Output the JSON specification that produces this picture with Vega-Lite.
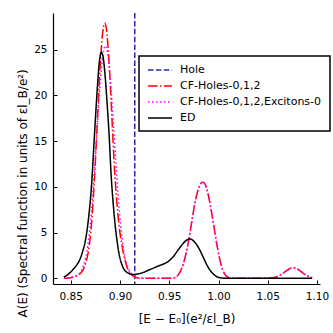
{
  "$schema": "https://vega.github.io/schema/vega-lite/v6.json",
  "width": 267,
  "height": 271,
  "autosize": {"type": "none"},
  "padding": {"left": 53, "top": 13, "right": 13, "bottom": 49},
  "background": "white",
  "datasets": {
    "curves": [
      {"s": "CF-Holes-0,1,2", "x": 0.843, "y": 0},
      {"s": "CF-Holes-0,1,2", "x": 0.847, "y": 0.03},
      {"s": "CF-Holes-0,1,2", "x": 0.851, "y": 0.08},
      {"s": "CF-Holes-0,1,2", "x": 0.855, "y": 0.2},
      {"s": "CF-Holes-0,1,2", "x": 0.859, "y": 0.45},
      {"s": "CF-Holes-0,1,2", "x": 0.862, "y": 0.85},
      {"s": "CF-Holes-0,1,2", "x": 0.865, "y": 1.6},
      {"s": "CF-Holes-0,1,2", "x": 0.868, "y": 3.0},
      {"s": "CF-Holes-0,1,2", "x": 0.871, "y": 5.8},
      {"s": "CF-Holes-0,1,2", "x": 0.874, "y": 10.7},
      {"s": "CF-Holes-0,1,2", "x": 0.877, "y": 17.1},
      {"s": "CF-Holes-0,1,2", "x": 0.88, "y": 23.4},
      {"s": "CF-Holes-0,1,2", "x": 0.882, "y": 26.4},
      {"s": "CF-Holes-0,1,2", "x": 0.8845, "y": 27.9},
      {"s": "CF-Holes-0,1,2", "x": 0.886, "y": 27.4},
      {"s": "CF-Holes-0,1,2", "x": 0.888, "y": 25.1},
      {"s": "CF-Holes-0,1,2", "x": 0.89, "y": 21.5},
      {"s": "CF-Holes-0,1,2", "x": 0.892, "y": 17.1},
      {"s": "CF-Holes-0,1,2", "x": 0.894, "y": 12.8},
      {"s": "CF-Holes-0,1,2", "x": 0.896, "y": 9.4},
      {"s": "CF-Holes-0,1,2", "x": 0.899, "y": 5.8},
      {"s": "CF-Holes-0,1,2", "x": 0.902, "y": 3.6},
      {"s": "CF-Holes-0,1,2", "x": 0.905, "y": 2.0},
      {"s": "CF-Holes-0,1,2", "x": 0.908, "y": 1.0},
      {"s": "CF-Holes-0,1,2", "x": 0.911, "y": 0.45},
      {"s": "CF-Holes-0,1,2", "x": 0.914, "y": 0.18},
      {"s": "CF-Holes-0,1,2", "x": 0.918, "y": 0.05},
      {"s": "CF-Holes-0,1,2", "x": 0.922, "y": 0},
      {"s": "CF-Holes-0,1,2", "x": 0.935, "y": 0},
      {"s": "CF-Holes-0,1,2", "x": 0.95, "y": 0},
      {"s": "CF-Holes-0,1,2", "x": 0.955, "y": 0.05},
      {"s": "CF-Holes-0,1,2", "x": 0.958, "y": 0.25},
      {"s": "CF-Holes-0,1,2", "x": 0.961, "y": 0.7},
      {"s": "CF-Holes-0,1,2", "x": 0.964, "y": 1.5},
      {"s": "CF-Holes-0,1,2", "x": 0.967, "y": 2.7},
      {"s": "CF-Holes-0,1,2", "x": 0.97, "y": 4.3},
      {"s": "CF-Holes-0,1,2", "x": 0.973, "y": 6.3},
      {"s": "CF-Holes-0,1,2", "x": 0.976, "y": 8.2},
      {"s": "CF-Holes-0,1,2", "x": 0.979, "y": 9.6},
      {"s": "CF-Holes-0,1,2", "x": 0.982, "y": 10.35},
      {"s": "CF-Holes-0,1,2", "x": 0.984, "y": 10.5},
      {"s": "CF-Holes-0,1,2", "x": 0.986, "y": 10.35},
      {"s": "CF-Holes-0,1,2", "x": 0.989, "y": 9.4},
      {"s": "CF-Holes-0,1,2", "x": 0.992, "y": 7.8},
      {"s": "CF-Holes-0,1,2", "x": 0.995, "y": 5.9},
      {"s": "CF-Holes-0,1,2", "x": 0.998, "y": 3.9},
      {"s": "CF-Holes-0,1,2", "x": 1.001, "y": 2.2},
      {"s": "CF-Holes-0,1,2", "x": 1.004, "y": 1.0},
      {"s": "CF-Holes-0,1,2", "x": 1.007, "y": 0.35},
      {"s": "CF-Holes-0,1,2", "x": 1.01, "y": 0.1},
      {"s": "CF-Holes-0,1,2", "x": 1.014, "y": 0},
      {"s": "CF-Holes-0,1,2", "x": 1.03, "y": 0},
      {"s": "CF-Holes-0,1,2", "x": 1.045, "y": 0},
      {"s": "CF-Holes-0,1,2", "x": 1.05, "y": 0.01},
      {"s": "CF-Holes-0,1,2", "x": 1.055, "y": 0.06},
      {"s": "CF-Holes-0,1,2", "x": 1.06, "y": 0.21},
      {"s": "CF-Holes-0,1,2", "x": 1.064, "y": 0.45},
      {"s": "CF-Holes-0,1,2", "x": 1.068, "y": 0.76},
      {"s": "CF-Holes-0,1,2", "x": 1.072, "y": 1.05},
      {"s": "CF-Holes-0,1,2", "x": 1.0757, "y": 1.15},
      {"s": "CF-Holes-0,1,2", "x": 1.079, "y": 1.07},
      {"s": "CF-Holes-0,1,2", "x": 1.083, "y": 0.8},
      {"s": "CF-Holes-0,1,2", "x": 1.087, "y": 0.48},
      {"s": "CF-Holes-0,1,2", "x": 1.091, "y": 0.23},
      {"s": "CF-Holes-0,1,2", "x": 1.095, "y": 0.09},

      {"s": "CF-Holes-0,1,2,Excitons-0", "x": 0.843, "y": 0},
      {"s": "CF-Holes-0,1,2,Excitons-0", "x": 0.847, "y": 0.04},
      {"s": "CF-Holes-0,1,2,Excitons-0", "x": 0.851, "y": 0.1},
      {"s": "CF-Holes-0,1,2,Excitons-0", "x": 0.855, "y": 0.25},
      {"s": "CF-Holes-0,1,2,Excitons-0", "x": 0.859, "y": 0.55},
      {"s": "CF-Holes-0,1,2,Excitons-0", "x": 0.862, "y": 1.1},
      {"s": "CF-Holes-0,1,2,Excitons-0", "x": 0.865, "y": 2.2},
      {"s": "CF-Holes-0,1,2,Excitons-0", "x": 0.868, "y": 4.1},
      {"s": "CF-Holes-0,1,2,Excitons-0", "x": 0.871, "y": 7.3},
      {"s": "CF-Holes-0,1,2,Excitons-0", "x": 0.874, "y": 11.7},
      {"s": "CF-Holes-0,1,2,Excitons-0", "x": 0.877, "y": 16.8},
      {"s": "CF-Holes-0,1,2,Excitons-0", "x": 0.88, "y": 21.5},
      {"s": "CF-Holes-0,1,2,Excitons-0", "x": 0.882, "y": 23.8},
      {"s": "CF-Holes-0,1,2,Excitons-0", "x": 0.8852, "y": 25.4},
      {"s": "CF-Holes-0,1,2,Excitons-0", "x": 0.888, "y": 24.2},
      {"s": "CF-Holes-0,1,2,Excitons-0", "x": 0.89, "y": 22.0},
      {"s": "CF-Holes-0,1,2,Excitons-0", "x": 0.892, "y": 19.1},
      {"s": "CF-Holes-0,1,2,Excitons-0", "x": 0.894, "y": 15.7},
      {"s": "CF-Holes-0,1,2,Excitons-0", "x": 0.896, "y": 12.4},
      {"s": "CF-Holes-0,1,2,Excitons-0", "x": 0.899, "y": 7.8},
      {"s": "CF-Holes-0,1,2,Excitons-0", "x": 0.902, "y": 4.5},
      {"s": "CF-Holes-0,1,2,Excitons-0", "x": 0.905, "y": 2.3},
      {"s": "CF-Holes-0,1,2,Excitons-0", "x": 0.908, "y": 1.2},
      {"s": "CF-Holes-0,1,2,Excitons-0", "x": 0.911, "y": 0.6},
      {"s": "CF-Holes-0,1,2,Excitons-0", "x": 0.914, "y": 0.3},
      {"s": "CF-Holes-0,1,2,Excitons-0", "x": 0.918, "y": 0.1},
      {"s": "CF-Holes-0,1,2,Excitons-0", "x": 0.922, "y": 0.03},
      {"s": "CF-Holes-0,1,2,Excitons-0", "x": 0.926, "y": 0},
      {"s": "CF-Holes-0,1,2,Excitons-0", "x": 0.94, "y": 0},
      {"s": "CF-Holes-0,1,2,Excitons-0", "x": 0.95, "y": 0},
      {"s": "CF-Holes-0,1,2,Excitons-0", "x": 0.955, "y": 0.05},
      {"s": "CF-Holes-0,1,2,Excitons-0", "x": 0.958, "y": 0.25},
      {"s": "CF-Holes-0,1,2,Excitons-0", "x": 0.961, "y": 0.7},
      {"s": "CF-Holes-0,1,2,Excitons-0", "x": 0.964, "y": 1.5},
      {"s": "CF-Holes-0,1,2,Excitons-0", "x": 0.967, "y": 2.7},
      {"s": "CF-Holes-0,1,2,Excitons-0", "x": 0.97, "y": 4.3},
      {"s": "CF-Holes-0,1,2,Excitons-0", "x": 0.973, "y": 6.3},
      {"s": "CF-Holes-0,1,2,Excitons-0", "x": 0.976, "y": 8.2},
      {"s": "CF-Holes-0,1,2,Excitons-0", "x": 0.979, "y": 9.6},
      {"s": "CF-Holes-0,1,2,Excitons-0", "x": 0.982, "y": 10.35},
      {"s": "CF-Holes-0,1,2,Excitons-0", "x": 0.984, "y": 10.5},
      {"s": "CF-Holes-0,1,2,Excitons-0", "x": 0.986, "y": 10.35},
      {"s": "CF-Holes-0,1,2,Excitons-0", "x": 0.989, "y": 9.4},
      {"s": "CF-Holes-0,1,2,Excitons-0", "x": 0.992, "y": 7.8},
      {"s": "CF-Holes-0,1,2,Excitons-0", "x": 0.995, "y": 5.9},
      {"s": "CF-Holes-0,1,2,Excitons-0", "x": 0.998, "y": 3.9},
      {"s": "CF-Holes-0,1,2,Excitons-0", "x": 1.001, "y": 2.2},
      {"s": "CF-Holes-0,1,2,Excitons-0", "x": 1.004, "y": 1.0},
      {"s": "CF-Holes-0,1,2,Excitons-0", "x": 1.007, "y": 0.35},
      {"s": "CF-Holes-0,1,2,Excitons-0", "x": 1.01, "y": 0.1},
      {"s": "CF-Holes-0,1,2,Excitons-0", "x": 1.014, "y": 0},
      {"s": "CF-Holes-0,1,2,Excitons-0", "x": 1.03, "y": 0},
      {"s": "CF-Holes-0,1,2,Excitons-0", "x": 1.045, "y": 0},
      {"s": "CF-Holes-0,1,2,Excitons-0", "x": 1.05, "y": 0.01},
      {"s": "CF-Holes-0,1,2,Excitons-0", "x": 1.055, "y": 0.06},
      {"s": "CF-Holes-0,1,2,Excitons-0", "x": 1.06, "y": 0.21},
      {"s": "CF-Holes-0,1,2,Excitons-0", "x": 1.064, "y": 0.45},
      {"s": "CF-Holes-0,1,2,Excitons-0", "x": 1.068, "y": 0.76},
      {"s": "CF-Holes-0,1,2,Excitons-0", "x": 1.072, "y": 1.05},
      {"s": "CF-Holes-0,1,2,Excitons-0", "x": 1.0757, "y": 1.15},
      {"s": "CF-Holes-0,1,2,Excitons-0", "x": 1.079, "y": 1.07},
      {"s": "CF-Holes-0,1,2,Excitons-0", "x": 1.083, "y": 0.8},
      {"s": "CF-Holes-0,1,2,Excitons-0", "x": 1.087, "y": 0.48},
      {"s": "CF-Holes-0,1,2,Excitons-0", "x": 1.091, "y": 0.23},
      {"s": "CF-Holes-0,1,2,Excitons-0", "x": 1.095, "y": 0.09},

      {"s": "ED", "x": 0.843, "y": 0.15},
      {"s": "ED", "x": 0.847, "y": 0.4},
      {"s": "ED", "x": 0.851, "y": 0.8},
      {"s": "ED", "x": 0.855, "y": 1.3},
      {"s": "ED", "x": 0.859, "y": 2.0},
      {"s": "ED", "x": 0.862, "y": 2.9},
      {"s": "ED", "x": 0.865, "y": 4.2},
      {"s": "ED", "x": 0.868, "y": 6.5},
      {"s": "ED", "x": 0.871, "y": 10.0},
      {"s": "ED", "x": 0.874, "y": 15.5},
      {"s": "ED", "x": 0.877, "y": 20.8},
      {"s": "ED", "x": 0.879, "y": 23.6},
      {"s": "ED", "x": 0.881, "y": 24.7},
      {"s": "ED", "x": 0.883, "y": 24.1},
      {"s": "ED", "x": 0.885, "y": 22.0},
      {"s": "ED", "x": 0.887, "y": 19.0},
      {"s": "ED", "x": 0.889, "y": 15.6},
      {"s": "ED", "x": 0.891, "y": 11.3},
      {"s": "ED", "x": 0.893, "y": 8.3},
      {"s": "ED", "x": 0.895, "y": 5.9},
      {"s": "ED", "x": 0.897, "y": 4.1},
      {"s": "ED", "x": 0.899, "y": 2.7},
      {"s": "ED", "x": 0.901, "y": 1.8},
      {"s": "ED", "x": 0.904, "y": 1.0},
      {"s": "ED", "x": 0.907, "y": 0.65},
      {"s": "ED", "x": 0.91, "y": 0.48},
      {"s": "ED", "x": 0.913, "y": 0.42},
      {"s": "ED", "x": 0.916, "y": 0.43},
      {"s": "ED", "x": 0.919, "y": 0.5},
      {"s": "ED", "x": 0.924, "y": 0.65},
      {"s": "ED", "x": 0.929, "y": 0.9},
      {"s": "ED", "x": 0.934, "y": 1.12},
      {"s": "ED", "x": 0.939, "y": 1.35},
      {"s": "ED", "x": 0.944, "y": 1.56},
      {"s": "ED", "x": 0.949, "y": 1.85},
      {"s": "ED", "x": 0.954, "y": 2.36},
      {"s": "ED", "x": 0.959, "y": 3.1},
      {"s": "ED", "x": 0.964, "y": 3.8},
      {"s": "ED", "x": 0.968, "y": 4.2},
      {"s": "ED", "x": 0.971, "y": 4.3},
      {"s": "ED", "x": 0.974, "y": 4.15},
      {"s": "ED", "x": 0.977, "y": 3.8},
      {"s": "ED", "x": 0.98, "y": 3.3},
      {"s": "ED", "x": 0.983, "y": 2.65},
      {"s": "ED", "x": 0.986, "y": 1.95},
      {"s": "ED", "x": 0.989, "y": 1.3},
      {"s": "ED", "x": 0.992, "y": 0.8},
      {"s": "ED", "x": 0.995, "y": 0.45},
      {"s": "ED", "x": 0.998, "y": 0.2},
      {"s": "ED", "x": 1.001, "y": 0.08},
      {"s": "ED", "x": 1.005, "y": 0.02},
      {"s": "ED", "x": 1.01, "y": 0},
      {"s": "ED", "x": 1.05, "y": 0},
      {"s": "ED", "x": 1.095, "y": 0}
    ],
    "hole": [{"s": "Hole", "x": 0.915}]
  },
  "layer": [
    {
      "data": {"name": "hole"},
      "mark": {"type": "rule", "strokeWidth": 1.5},
      "encoding": {
        "x": {"field": "x", "type": "quantitative"},
        "color": {"field": "s", "type": "nominal"},
        "strokeDash": {"field": "s", "type": "nominal"}
      }
    },
    {
      "data": {"name": "curves"},
      "transform": [{"filter": "datum.s == 'CF-Holes-0,1,2'"}],
      "mark": {"type": "line", "strokeWidth": 1.5, "interpolate": "monotone"},
      "encoding": {
        "x": {"field": "x", "type": "quantitative"},
        "y": {"field": "y", "type": "quantitative"},
        "color": {"field": "s", "type": "nominal"},
        "strokeDash": {"field": "s", "type": "nominal"}
      }
    },
    {
      "data": {"name": "curves"},
      "transform": [{"filter": "datum.s == 'CF-Holes-0,1,2,Excitons-0'"}],
      "mark": {"type": "line", "strokeWidth": 1.5, "interpolate": "monotone"},
      "encoding": {
        "x": {"field": "x", "type": "quantitative"},
        "y": {"field": "y", "type": "quantitative"},
        "color": {"field": "s", "type": "nominal"},
        "strokeDash": {"field": "s", "type": "nominal"}
      }
    },
    {
      "data": {"name": "curves"},
      "transform": [{"filter": "datum.s == 'ED'"}],
      "mark": {"type": "line", "strokeWidth": 1.5, "interpolate": "monotone"},
      "encoding": {
        "x": {"field": "x", "type": "quantitative", "scale": {"domain": [0.832, 1.103], "nice": false, "zero": false}, "axis": {"values": [0.85, 0.9, 0.95, 1.0, 1.05, 1.1], "format": ".2f", "title": "[E − E₀](e²/εl_B)", "titleY": 38, "titleBaseline": "alphabetic", "labelPadding": 11}},
        "y": {"field": "y", "type": "quantitative", "scale": {"domain": [-0.62, 29.0], "nice": false, "zero": false}, "axis": {"values": [0, 5, 10, 15, 20, 25], "format": "d", "title": "A(E) (Spectral function in units of εl_B/e²)", "titleAngle": 270, "titleAlign": "left", "titleBaseline": "alphabetic", "titleX": -27, "titleY": 304, "labelPadding": 10}},
        "color": {"field": "s", "type": "nominal", "scale": {"domain": ["Hole", "CF-Holes-0,1,2", "CF-Holes-0,1,2,Excitons-0", "ED"], "range": ["#2a2aa6", "#ff0000", "#ff00ff", "#000000"]}},
        "strokeDash": {"field": "s", "type": "nominal", "scale": {"domain": ["Hole", "CF-Holes-0,1,2", "CF-Holes-0,1,2,Excitons-0", "ED"], "range": [[5.5, 2.4], [9.6, 2.4, 1.5, 2.4], [1.5, 2.5], [1, 0]]}}
      }
    }
  ],
  "config": {
    "font": "DejaVu Sans",
    "view": {"stroke": null},
    "axis": {
      "grid": false,
      "domainColor": "black",
      "domainWidth": 1.2,
      "tickColor": "black",
      "tickWidth": 1,
      "tickSize": -4,
      "labelFontSize": 10.5,
      "labelColor": "black",
      "titleFontSize": 12,
      "titleFontWeight": "normal",
      "titleColor": "black"
    },
    "legend": {
      "orient": "none",
      "legendX": 86,
      "legendY": 43,
      "title": null,
      "padding": 8,
      "strokeColor": "black",
      "strokeWidth": 1.5,
      "fillColor": "white",
      "cornerRadius": 0,
      "symbolType": "M-2.4,0H2.4",
      "symbolSize": 100,
      "symbolStrokeWidth": 1.5,
      "symbolFillColor": "transparent",
      "labelFontSize": 11,
      "labelColor": "black",
      "labelOffset": 14,
      "rowPadding": 5,
      "symbolOffset": 7
    }
  }
}
